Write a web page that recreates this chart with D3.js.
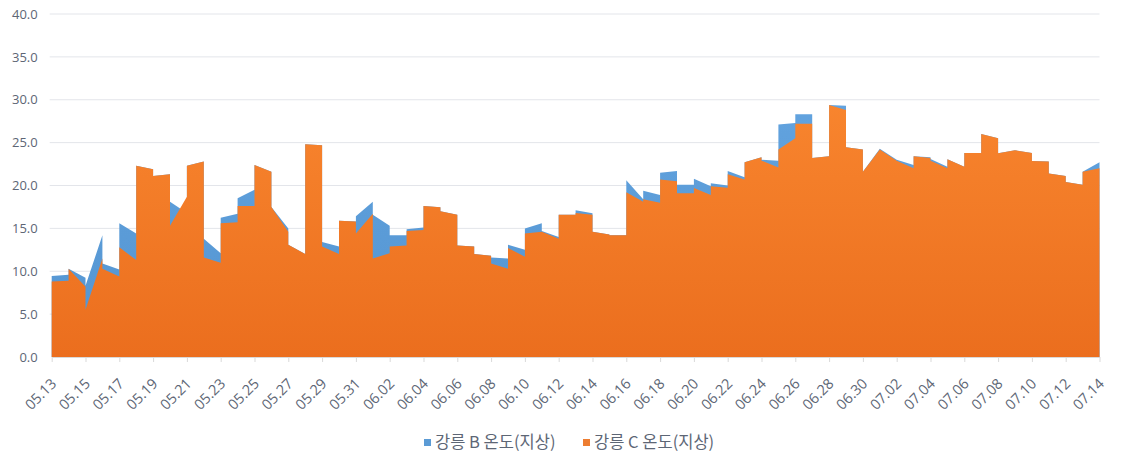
<!DOCTYPE html>
<html>
<head>
<meta charset="utf-8">
<script src="https://cdn.jsdelivr.net/npm/d3@7"></script>
<style>
  html, body { margin: 0; padding: 0; background: #fff; }
  svg { display: block; font-family: "Noto Sans CJK KR", "Open Sans", sans-serif; }
</style>
</head>
<body>
<div id="chart"></div>
<script>
// Declare the chart dimensions and margins.
const width = 1129;
const height = 454;
const margin = { top: 14, right: 29.5, bottom: 97, left: 51.7 };

const dates = [
  "05.13","05.14","05.15","05.16","05.17","05.18","05.19","05.20","05.21","05.22",
  "05.23","05.24","05.25","05.26","05.27","05.28","05.29","05.30","05.31","06.01",
  "06.02","06.03","06.04","06.05","06.06","06.07","06.08","06.09","06.10","06.11",
  "06.12","06.13","06.14","06.15","06.16","06.17","06.18","06.19","06.20","06.21",
  "06.22","06.23","06.24","06.25","06.26","06.27","06.28","06.29","06.30","07.01",
  "07.02","07.03","07.04","07.05","07.06","07.07","07.08","07.09","07.10","07.11",
  "07.12","07.13","07.14"
];

// first and last reading of each day
const bOpen = [
  9.45, 9.6, 9.25, 14.2, 10.2, 14.4, 21.9, 21.3, 16.8, 22.8,
  12.1, 16.7, 19.5, 21.6, 15.0, 12.0, 24.7, 12.9, 15.8, 18.1,
  15.3, 14.2, 15.1, 17.45, 16.6, 12.9, 11.8, 11.5, 12.5, 15.6,
  14.0, 16.6, 16.75, 14.3, 14.2, 18.4, 18.9, 21.7, 20.1, 19.9,
  20.0, 20.95, 23.3, 22.9, 27.3, 28.3, 23.4, 29.3, 24.2, 24.3,
  23.0, 22.4, 23.3, 22.2, 22.2, 23.8, 25.5, 24.1, 23.8, 22.8,
  21.1, 20.1, 22.7
];
const bClose = [
  9.45, 10.3, 8.3, 10.9, 15.6, 22.3, 21.1, 18.1, 22.3, 13.8,
  16.25, 18.5, 22.4, 17.5, 13.1, 24.8, 13.4, 15.9, 16.4, 16.6,
  14.2, 14.9, 17.6, 17.0, 13.0, 12.0, 11.6, 13.1, 15.0, 14.7,
  16.6, 17.1, 14.6, 14.2, 20.6, 19.4, 21.5, 20.1, 20.8, 20.25,
  21.7, 22.7, 23.0, 27.1, 28.3, 23.2, 29.4, 24.45, 21.6, 24.3,
  23.0, 23.4, 23.1, 23.05, 23.8, 26.0, 23.75, 24.1, 22.85, 21.4,
  20.4, 21.6, 22.7
];
const cOpen = [
  8.8, 8.9, 8.2, 11.5, 9.4, 11.3, 21.9, 21.3, 18.7, 22.8,
  11.0, 15.7, 17.6, 21.6, 14.6, 12.0, 24.7, 12.0, 15.8, 16.7,
  12.1, 13.0, 14.8, 17.45, 16.6, 12.9, 11.8, 10.3, 11.7, 14.6,
  13.8, 16.6, 16.6, 14.3, 14.2, 18.1, 18.0, 20.5, 19.1, 18.9,
  19.75, 20.7, 23.3, 22.1, 25.5, 27.2, 23.4, 28.8, 24.2, 24.2,
  22.9, 22.0, 23.2, 22.0, 22.2, 23.8, 25.5, 24.1, 23.8, 22.8,
  21.1, 20.1, 22.0
];
const cClose = [
  8.8, 10.3, 5.5, 10.3, 12.8, 22.3, 21.1, 15.3, 22.3, 11.6,
  15.6, 17.6, 22.4, 17.5, 13.1, 24.8, 12.9, 15.9, 14.4, 11.5,
  12.9, 14.7, 17.6, 17.0, 13.0, 12.0, 10.9, 12.7, 14.4, 14.6,
  16.6, 16.8, 14.6, 14.2, 19.2, 18.4, 20.7, 19.1, 19.7, 19.9,
  21.3, 22.7, 22.9, 24.2, 27.2, 23.2, 29.4, 24.45, 21.6, 24.2,
  22.9, 23.4, 22.9, 23.05, 23.8, 26.0, 23.75, 24.1, 22.85, 21.4,
  20.4, 21.6, 22.0
];

const seriesNames = ["강릉 B 온도(지상)", "강릉 C 온도(지상)"];
const yTicks = [0, 5, 10, 15, 20, 25, 30, 35, 40];
const textColor = "#5d6675";

const svg = d3.select("#chart").append("svg")
  .attr("width", width)
  .attr("height", height);

const x = d3.scalePoint()
  .domain(dates)
  .range([margin.left, width - margin.right]);

const y = d3.scaleLinear()
  .domain([0, 40])
  .range([height - margin.bottom, margin.top]);

// gradients for the area fills
const defs = svg.append("defs");
function addGradient(id, top, bottom) {
  const g = defs.append("linearGradient")
    .attr("id", id)
    .attr("gradientUnits", "userSpaceOnUse")
    .attr("x1", 0).attr("x2", 0)
    .attr("y1", y(30)).attr("y2", y(0));
  g.append("stop").attr("offset", 0).attr("stop-color", top);
  g.append("stop").attr("offset", 1).attr("stop-color", bottom);
}
addGradient("gradB", "#62a3df", "#5394d0");
addGradient("gradC", "#f8852e", "#eb6e1e");

// gridlines
svg.append("g")
  .selectAll("line")
  .data(yTicks.filter(d => d > 0))
  .join("line")
  .attr("x1", margin.left - 2)
  .attr("x2", width - margin.right)
  .attr("y1", d => y(d))
  .attr("y2", d => y(d))
  .attr("stroke", "#e3e5ea")
  .attr("stroke-width", 1);

// y axis labels
svg.append("g")
  .attr("transform", `translate(${margin.left},0)`)
  .call(d3.axisLeft(y).tickValues(yTicks).tickFormat(d3.format(".1f")).tickSize(0).tickPadding(14))
  .call(g => g.select(".domain").remove())
  .call(g => g.selectAll("text")
    .attr("fill", textColor)
    .style("font-size", "13px")
    .style("font-family", "'Open Sans', 'Noto Sans', sans-serif"));

// two readings per day plotted at the same date gives the vertical steps
function points(open, close) {
  return dates.flatMap((d, i) => [{ date: d, v: open[i] }, { date: d, v: close[i] }]);
}

const area = d3.area()
  .x(d => x(d.date))
  .y0(y(0))
  .y1(d => y(d.v));

svg.append("path")
  .datum(points(bOpen, bClose))
  .attr("fill", "url(#gradB)")
  .attr("d", area);

svg.append("path")
  .datum(points(cOpen, cClose))
  .attr("fill", "url(#gradC)")
  .attr("d", area);

// x axis
const labelDates = dates.filter((d, i) => i % 2 === 0);
svg.append("g")
  .attr("transform", `translate(0,${y(0)})`)
  .call(d3.axisBottom(x).tickValues(labelDates).tickSize(5).tickSizeOuter(0).tickFormat(""))
  .call(g => g.select(".domain").attr("stroke", "#d9d9d9"))
  .call(g => g.selectAll(".tick line").attr("stroke", "#d9d9d9"));

svg.append("g")
  .selectAll("text")
  .data(labelDates)
  .join("text")
  .attr("transform", d => `translate(${x(d) + 2},${y(0) + 24}) rotate(-45)`)
  .attr("text-anchor", "end")
  .attr("dy", "0.35em")
  .attr("fill", textColor)
  .style("font-size", "14.5px")
  .style("font-family", "'Open Sans', 'Noto Sans', sans-serif")
  .text(d => d);

// legend
const legendColors = ["#5b9bd5", "#ed7d31"];
const legendX = [424, 583];
const legend = svg.append("g");
seriesNames.forEach((name, i) => {
  legend.append("rect")
    .attr("x", legendX[i])
    .attr("y", 439)
    .attr("width", 7)
    .attr("height", 7)
    .attr("fill", legendColors[i]);
  legend.append("text")
    .attr("x", legendX[i] + 11)
    .attr("y", 442)
    .attr("dy", "0.35em")
    .attr("fill", textColor)
    .style("font-size", "16.5px")
    .text(name);
});
</script>
</body>
</html>
